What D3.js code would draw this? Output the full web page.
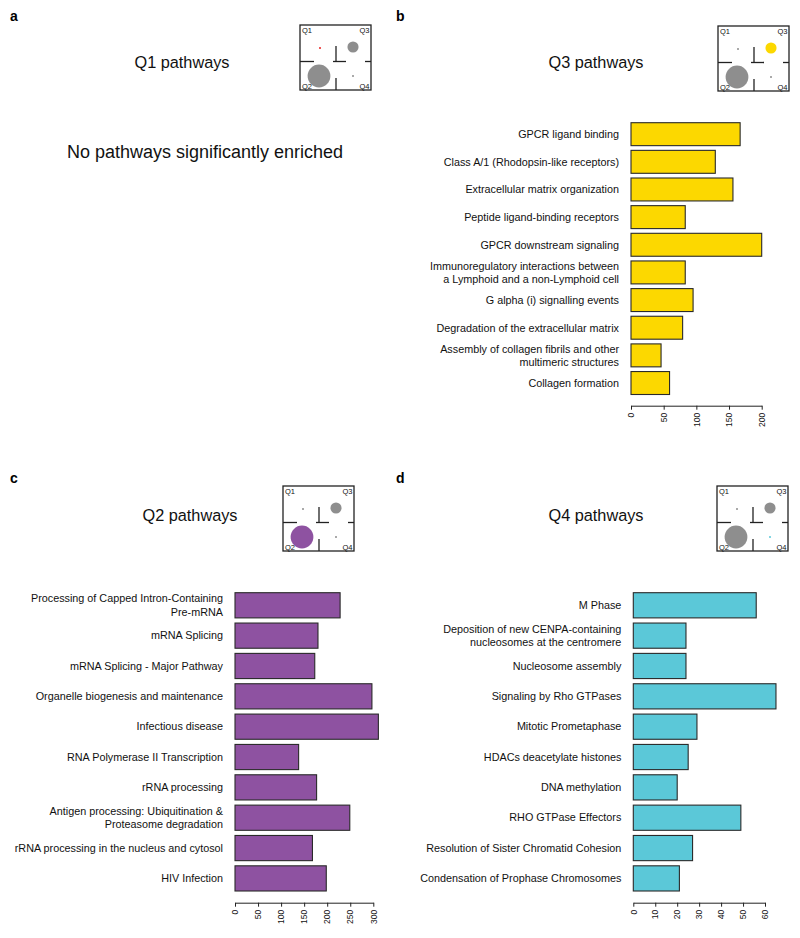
<!DOCTYPE html>
<html>
<head>
<meta charset="utf-8">
<script src="https://cdn.jsdelivr.net/npm/d3@7"></script>
<style>
  body { margin: 0; background: #fff; }
  svg { font-family: "Liberation Sans", Arial, Helvetica, sans-serif; }
</style>
</head>
<body>
<svg id="chart" width="800" height="938"></svg>
<script>
// data

const quadNames = ['Q1', 'Q2', 'Q3', 'Q4'];
const quadCounts = [1, 130, 31, 1];

const q3Labels = [
    'GPCR ligand binding',
    'Class A/1 (Rhodopsin-like receptors)',
    'Extracellular matrix organization',
    'Peptide ligand-binding receptors',
    'GPCR downstream signaling',
    'Immunoregulatory interactions between\na Lymphoid and a non-Lymphoid cell',
    'G alpha (i) signalling events',
    'Degradation of the extracellular matrix',
    'Assembly of collagen fibrils and other\nmultimeric structures',
    'Collagen formation',
];
const q3Values = [167, 129, 156, 83, 200, 83, 95, 79, 46, 59];
const q3Ticks = [0, 50, 100, 150, 200];

const q2Labels = [
    'Processing of Capped Intron-Containing\nPre-mRNA',
    'mRNA Splicing',
    'mRNA Splicing - Major Pathway',
    'Organelle biogenesis and maintenance',
    'Infectious disease',
    'RNA Polymerase II Transcription',
    'rRNA processing',
    'Antigen processing: Ubiquitination &\nProteasome degradation',
    'rRNA processing in the nucleus and cytosol',
    'HIV Infection',
];
const q2Values = [228, 180, 173, 297, 311, 138, 177, 249, 168, 198];
const q2Ticks = [0, 50, 100, 150, 200, 250, 300];

const q4Labels = [
    'M Phase',
    'Deposition of new CENPA-containing\nnucleosomes at the centromere',
    'Nucleosome assembly',
    'Signaling by Rho GTPases',
    'Mitotic Prometaphase',
    'HDACs deacetylate histones',
    'DNA methylation',
    'RHO GTPase Effectors',
    'Resolution of Sister Chromatid Cohesion',
    'Condensation of Prophase Chromosomes',
];
const q4Values = [56, 24, 24, 65, 29, 25, 20, 49, 27, 21];
const q4Ticks = [0, 10, 20, 30, 40, 50, 60];

// styles

const grey = '#8e8e8e';
const quadColors = { Q1: '#e8211f', Q2: '#8e52a1', Q3: '#fcd800', Q4: '#5bc8d8' };

let svg = d3.select('#chart');

// panel letters

let letters = [
    { t: 'a', x: 10, y: 21 }, { t: 'b', x: 396, y: 21 },
    { t: 'c', x: 10, y: 483 }, { t: 'd', x: 396, y: 483 },
];
svg.selectAll('.letter')
    .data(letters)
    .enter()
    .append('text')
    .classed('letter', 1)
    .attr('x', (d) => d.x)
    .attr('y', (d) => d.y)
    .style('font-size', '14px')
    .style('font-weight', 'bold')
    .text((d) => d.t);

// titles

function title(txt, cx, y) {
    svg.append('text')
        .attr('x', cx)
        .attr('y', y)
        .attr('text-anchor', 'middle')
        .style('font-size', '16.3px')
        .attr('fill', '#111')
        .text(txt);
}

title('Q1 pathways', 182, 68);
title('Q3 pathways', 596, 68);
title('Q2 pathways', 190, 521);
title('Q4 pathways', 596, 521);

svg.append('text')
    .attr('x', 205)
    .attr('y', 158)
    .attr('text-anchor', 'middle')
    .style('font-size', '18px')
    .attr('fill', '#111')
    .text('No pathways significantly enriched');

// quadrant icon

function quadIcon(x0, y0, hi) {
    let w = 71, h = 65;
    let g = svg.append('g').attr('transform', `translate(${x0},${y0})`);
    let r = d3.scaleSqrt().domain([0, d3.max(quadCounts)]).range([0, 11.4]);
    let pos = { Q1: [20, 23], Q2: [19, 51], Q3: [53, 22], Q4: [53, 51] };

    g.append('rect')
        .attr('width', w).attr('height', h)
        .attr('fill', 'none').attr('stroke', '#222').attr('stroke-width', 1.3);

    let my = 36.5, mx = 36;
    let segs = [
        [0, my, 14, my], [33, my, 46, my], [65, my, w, my],
        [mx, 21, mx, my], [mx, 53, mx, h],
    ];
    g.selectAll('line')
        .data(segs)
        .enter()
        .append('line')
        .attr('x1', (d) => d[0]).attr('y1', (d) => d[1])
        .attr('x2', (d) => d[2]).attr('y2', (d) => d[3])
        .attr('stroke', '#222').attr('stroke-width', 1.3);

    g.selectAll('circle')
        .data(quadNames)
        .enter()
        .append('circle')
        .attr('cx', (d) => pos[d][0])
        .attr('cy', (d) => pos[d][1])
        .attr('r', (d, i) => Math.max(0.9, r(quadCounts[i])))
        .attr('fill', (d) => d == hi ? quadColors[d] : grey);

    let lab = [
        { t: 'Q1', x: 2, y: 7.5, a: 'start' }, { t: 'Q3', x: w - 1.5, y: 7.5, a: 'end' },
        { t: 'Q2', x: 2, y: h - 1.5, a: 'start' }, { t: 'Q4', x: w - 1.5, y: h - 1.5, a: 'end' },
    ];
    g.selectAll('.ql')
        .data(lab)
        .enter()
        .append('text')
        .classed('ql', 1)
        .attr('x', (d) => d.x).attr('y', (d) => d.y)
        .attr('text-anchor', (d) => d.a)
        .style('font-size', '7.5px')
        .attr('fill', '#111')
        .text((d) => d.t);
}

quadIcon(300, 25, 'Q1');
quadIcon(718, 26, 'Q3');
quadIcon(283, 486, 'Q2');
quadIcon(717, 486, 'Q4');

// bar panels

function barPanel(opt) {
    let g = svg.append('g');
    let x = d3.scaleLinear()
        .domain([0, d3.max(opt.ticks)])
        .range([opt.x0, opt.x0 + opt.w]);
    let y = d3.scaleBand()
        .domain(opt.labels)
        .range([opt.y0, opt.y1])
        .paddingInner(0.17)
        .paddingOuter(0);

    g.selectAll('.bar')
        .data(opt.values)
        .enter()
        .append('rect')
        .classed('bar', 1)
        .attr('x', x(0))
        .attr('y', (d, i) => y(opt.labels[i]))
        .attr('width', (d) => x(d) - x(0))
        .attr('height', y.bandwidth())
        .attr('fill', opt.color)
        .attr('stroke', '#2a2a2a')
        .attr('stroke-width', 1.1);

    g.selectAll('.lab')
        .data(opt.labels)
        .enter()
        .append('text')
        .classed('lab', 1)
        .attr('text-anchor', 'end')
        .style('font-size', '10.8px')
        .attr('fill', '#111')
        .each(function(d) {
            let lines = d.split('\n');
            let cy = y(d) + y.bandwidth() / 2;
            let lh = 13.3;
            let self = d3.select(this);
            lines.forEach((ln, k) => {
                self.append('tspan')
                    .attr('x', opt.x0 - 12)
                    .attr('y', cy + (k - (lines.length - 1) / 2) * lh)
                    .attr('dy', '0.35em')
                    .text(ln);
            });
        });

    let ax = g.append('g')
        .attr('transform', `translate(0,${opt.axisY})`)
        .call(d3.axisBottom(x).tickValues(opt.ticks).tickSize(4).tickSizeOuter(0));
    ax.select('.domain').attr('stroke', '#222');
    ax.selectAll('.tick line').attr('stroke', '#222');
    ax.selectAll('.tick text')
        .attr('transform', 'rotate(-90)')
        .attr('x', -7)
        .attr('y', 0)
        .attr('dy', '0.32em')
        .attr('fill', '#111')
        .style('text-anchor', 'end')
        .style('font-size', '8.5px')
        .style('font-family', '"Liberation Sans", Arial, sans-serif');
}

barPanel({
    labels: q3Labels, values: q3Values, ticks: q3Ticks, color: quadColors.Q3,
    x0: 631, w: 130.7, y0: 122.7, y1: 394.5, axisY: 405.7,
});
barPanel({
    labels: q2Labels, values: q2Values, ticks: q2Ticks, color: quadColors.Q2,
    x0: 235, w: 138.3, y0: 592.7, y1: 891, axisY: 902.7,
});
barPanel({
    labels: q4Labels, values: q4Values, ticks: q4Ticks, color: quadColors.Q4,
    x0: 633.3, w: 131.7, y0: 592.7, y1: 891, axisY: 902.7,
});
</script>
</body>
</html>
